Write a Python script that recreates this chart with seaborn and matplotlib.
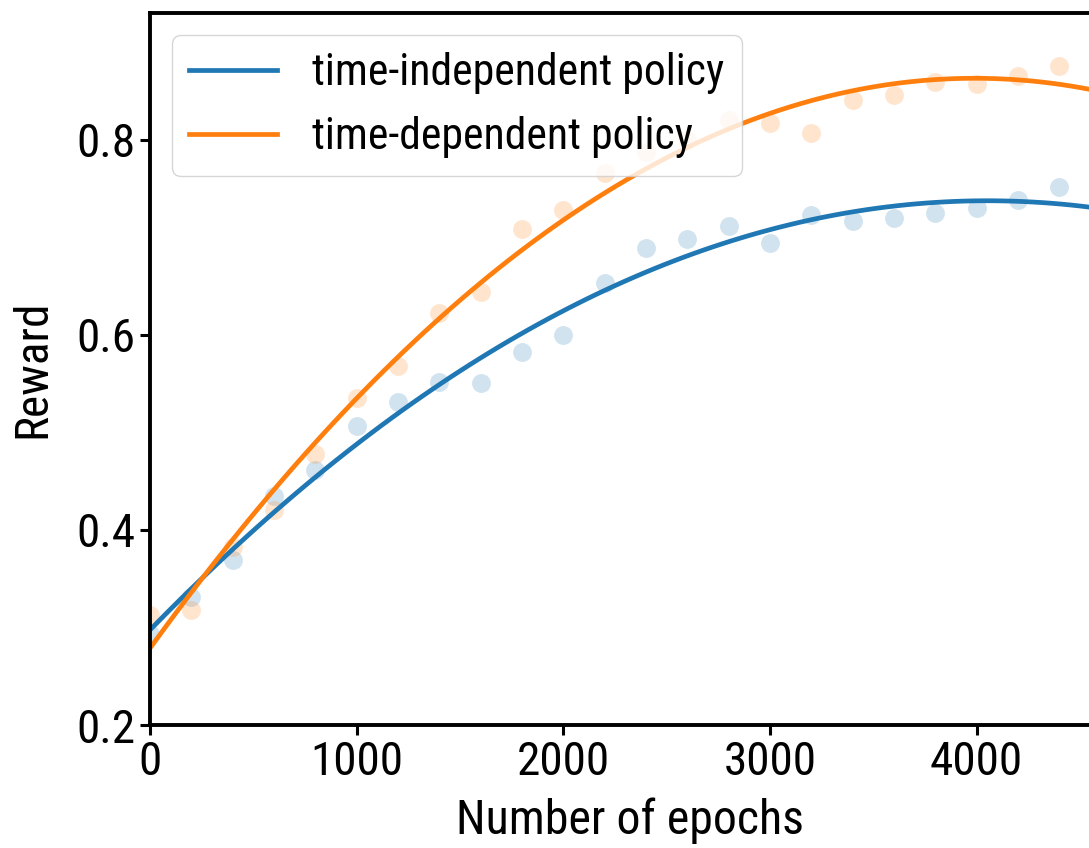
import numpy as np
import pandas as pd
import matplotlib
matplotlib.use("Agg")
import matplotlib.pyplot as plt
import seaborn as sns

# data
epochs = [0, 200, 400, 600, 800, 1000, 1200, 1400, 1600, 1800, 2000, 2200,
          2400, 2600, 2800, 3000, 3200, 3400, 3600, 3800, 4000, 4200, 4400]
reward_indep = [0.293, 0.331, 0.369, 0.435, 0.461, 0.507, 0.531, 0.552, 0.551,
                0.582, 0.600, 0.653, 0.689, 0.698, 0.712, 0.694, 0.723, 0.717,
                0.720, 0.725, 0.730, 0.738, 0.752]
reward_dep = [0.313, 0.318, 0.383, 0.420, 0.478, 0.535, 0.568, 0.622, 0.644,
              0.709, 0.728, 0.766, 0.787, 0.800, 0.820, 0.817, 0.807, 0.841,
              0.846, 0.859, 0.857, 0.865, 0.876]
labels = ["time-independent policy", "time-dependent policy"]
colors = ["#1f77b4", "#ff7f0e"]

df = pd.DataFrame({"epochs": epochs, "indep": reward_indep, "dep": reward_dep})

plt.rcParams['font.family'] = ['Roboto Condensed', 'Roboto', 'DejaVu Sans']
plt.rcParams['font.size'] = 34

fig = plt.figure(figsize=(10.89, 8.48), dpi=100)
ax = fig.add_axes([0.1377, 0.145, 0.8815, 0.8397])
ax.set_xlim(0, 4645)
ax.set_ylim(0.2, 0.93)

# quadratic fit + faint scatter for each policy
for col, lab, c in zip(["indep", "dep"], labels, colors):
    sns.regplot(data=df, x="epochs", y=col, order=2, ci=None, truncate=False,
                color=c, ax=ax,
                scatter_kws={"alpha": 0.2, "s": 185, "linewidths": 0},
                line_kws={"lw": 3.4, "label": lab})

ax.set_xlim(0, 4645)
ax.set_ylim(0.2, 0.93)
ax.set_xticks([0, 1000, 2000, 3000, 4000])
ax.set_yticks([0.2, 0.4, 0.6, 0.8])
ax.set_xlabel("Number of epochs", fontsize=34.5, labelpad=10)
ax.set_ylabel("Reward", fontsize=34, labelpad=16)
ax.tick_params(labelsize=34, width=2.2, length=7)
for s in ax.spines.values():
    s.set_linewidth(2.8)

ax.legend(loc="upper left", fontsize=31.5, handlelength=2.0)

plt.savefig("out.png", dpi=100)
